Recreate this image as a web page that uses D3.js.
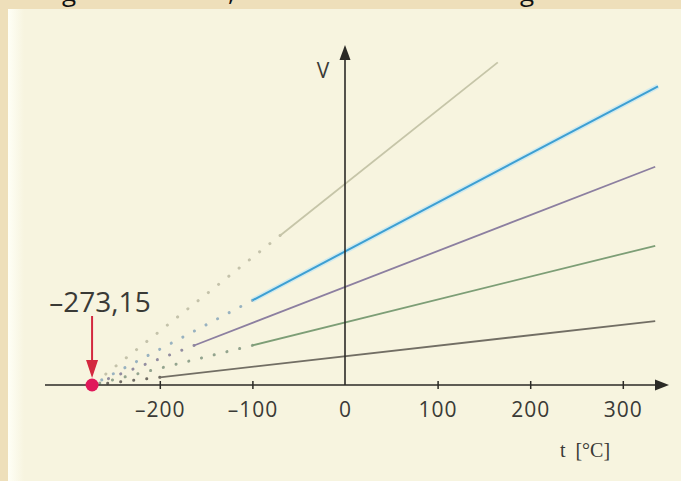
<!DOCTYPE html>
<html lang="de">
<head>
<meta charset="utf-8">
<title>V-t Diagramm</title>
<script src="https://cdn.jsdelivr.net/npm/d3@7"></script>
<style>
  body { margin: 0; background: #eedfba; }
  svg text { font-family: "Open Sans", "Noto Sans", sans-serif; fill: #3a3a36; }
</style>
</head>
<body>
<div id="chart"></div>
<script>
// data
var tickValues = [-200, -100, 0, 100, 200, 300];
var absZero = -273.15;
var v0 = [5.95, 3.95, 2.9, 1.85, 0.85];          // volume at 0 °C (rel. units)
var tSolid = [-70, -100, -163, -100, -200];     // where the measured (solid) part starts
var tEnd = [165, 338, 335, 335, 335];
var lineColors = ["#c6c5a8", "#3d9fd2", "#8c7fa0", "#7d9e76", "#726e64"];
var dotColors = ["#c4c2aa", "#98b2c0", "#938da0", "#93a48e", "#6e6a62"];

var W = 681, H = 481;
var svg = d3.select("#chart").append("svg")
    .attr("width", W).attr("height", H);

var defs = svg.append("defs");
var grad = defs.append("linearGradient").attr("id", "edge")
    .attr("x1", "0").attr("x2", "1").attr("y1", "0").attr("y2", "0");
grad.append("stop").attr("offset", "0").attr("stop-color", "#fffff6");
grad.append("stop").attr("offset", "1").attr("stop-color", "#f7f4df");

svg.append("rect").attr("width", W).attr("height", H).attr("fill", "#eedfba");
svg.append("rect").attr("x", 8).attr("y", 9).attr("width", W - 8).attr("height", H - 9)
    .attr("fill", "#f7f4df");
svg.append("rect").attr("x", 8).attr("y", 9).attr("width", 16).attr("height", H - 9)
    .attr("fill", "url(#edge)");

// bits of the text line above, cut off by the frame
defs.append("clipPath").attr("id", "topclip")
  .append("rect").attr("x", 0).attr("y", 0).attr("width", W).attr("height", 9);
var cut = svg.append("text").attr("clip-path", "url(#topclip)")
    .attr("y", 1).style("font-size", "26px").style("fill", "#111");
cut.append("tspan").attr("x", 62).text("g");
cut.append("tspan").attr("x", 228).text(",");
cut.append("tspan").attr("x", 520).text("g");

var x = d3.scaleLinear().domain([-300, 300]).range([67.2, 622.8]);
var y = d3.scaleLinear().domain([0, 10]).range([385, 47]);

function vol(i, t) { return v0[i] * (t - absZero) / (-absZero); }

var line = d3.line().x(function(d) { return x(d[0]); }).y(function(d) { return y(d[1]); });

// extrapolated parts (dotted)
svg.append("g").selectAll("path").data(v0).join("path")
    .attr("d", function(d, i) { return line([[tSolid[i], vol(i, tSolid[i])], [absZero, 0]]); })
    .attr("fill", "none")
    .attr("stroke", function(d, i) { return dotColors[i]; })
    .attr("stroke-width", 3)
    .attr("stroke-linecap", "round")
    .attr("stroke-dasharray", "0.1 13");

// faint glow under the blue line
svg.append("path")
    .attr("d", line([[tSolid[1], vol(1, tSolid[1])], [tEnd[1], vol(1, tEnd[1])]]))
    .attr("fill", "none").attr("stroke", "#bfe6f3").attr("stroke-width", 5).attr("opacity", 0.7);

svg.append("g").selectAll("path").data(v0).join("path")
    .attr("d", function(d, i) { return line([[tSolid[i], vol(i, tSolid[i])], [tEnd[i], vol(i, tEnd[i])]]); })
    .attr("fill", "none")
    .attr("stroke", function(d, i) { return lineColors[i]; })
    .attr("stroke-width", function(d, i) { return i == 1 ? 2 : 1.8; });

// axes
var axisColor = "#2b2a26";
var xAxis = svg.append("g").attr("transform", "translate(0," + y(0) + ")")
    .call(d3.axisBottom(x).tickValues(tickValues)
        .tickSize(4).tickPadding(13)
        .tickFormat(function(d) { return d < 0 ? "\u2013" + Math.abs(d) : d; }));
xAxis.select(".domain").remove();
xAxis.selectAll(".tick line").attr("y1", -4).attr("stroke", axisColor).attr("stroke-width", 1.5);
xAxis.selectAll(".tick").filter(function(d) { return d === 0; }).select("line").remove();
xAxis.selectAll(".tick text").style("font-size", "21px").style("fill", "#3a3a36")
    .style("letter-spacing", "1px").attr("font-family", null);

svg.append("line").attr("x1", 45).attr("x2", 658).attr("y1", y(0)).attr("y2", y(0))
    .attr("stroke", axisColor).attr("stroke-width", 1.6);
svg.append("path")
    .attr("d", "M" + 669 + "," + y(0) + "L655," + (y(0) - 5.5) + "L655," + (y(0) + 5.5) + "Z")
    .attr("fill", axisColor);

svg.append("line").attr("x1", x(0)).attr("x2", x(0)).attr("y1", y(0)).attr("y2", 58)
    .attr("stroke", axisColor).attr("stroke-width", 1.6);
svg.append("path")
    .attr("d", "M" + x(0) + ",45L" + (x(0) - 5.5) + ",60L" + (x(0) + 5.5) + ",60Z")
    .attr("fill", axisColor);

svg.append("text").attr("x", 323).attr("y", 78).attr("text-anchor", "middle")
    .style("font-size", "21px").text("V");
svg.append("text").attr("x", 585).attr("y", 457).attr("text-anchor", "middle")
    .style("font-family", "'Liberation Serif', serif").style("font-size", "20px")
    .text("t\u00a0\u00a0[\u00b0C]");

// absolute zero marker
var x0 = x(absZero);
svg.append("line").attr("x1", x0).attr("x2", x0).attr("y1", 316).attr("y2", 364)
    .attr("stroke", "#d3283f").attr("stroke-width", 2);
svg.append("path")
    .attr("d", "M" + x0 + ",378L" + (x0 - 6) + ",360L" + (x0 + 6) + ",360Z")
    .attr("fill", "#d3283f");
svg.append("circle").attr("cx", x0).attr("cy", y(0)).attr("r", 6.5).attr("fill", "#e0185a");
svg.append("text").attr("x", 100).attr("y", 312).attr("text-anchor", "middle")
    .style("font-size", "28px").text("\u2013273,15");
</script>
</body>
</html>
